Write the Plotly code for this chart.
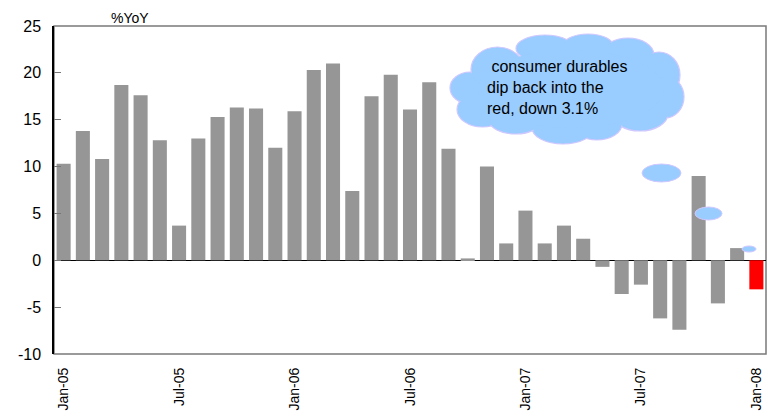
import plotly.graph_objects as go

# Monthly consumer durables growth, % year on year
months = [
    "Jan-05", "Feb-05", "Mar-05", "Apr-05", "May-05", "Jun-05",
    "Jul-05", "Aug-05", "Sep-05", "Oct-05", "Nov-05", "Dec-05",
    "Jan-06", "Feb-06", "Mar-06", "Apr-06", "May-06", "Jun-06",
    "Jul-06", "Aug-06", "Sep-06", "Oct-06", "Nov-06", "Dec-06",
    "Jan-07", "Feb-07", "Mar-07", "Apr-07", "May-07", "Jun-07",
    "Jul-07", "Aug-07", "Sep-07", "Oct-07", "Nov-07", "Dec-07",
    "Jan-08",
]
yoy = [
    10.3, 13.8, 10.8, 18.7, 17.6, 12.8,
    3.7, 13.0, 15.3, 16.3, 16.2, 12.0,
    15.9, 20.3, 21.0, 7.4, 17.5, 19.8,
    16.1, 19.0, 11.9, 0.2, 10.0, 1.8,
    5.3, 1.8, 3.7, 2.3, -0.7, -3.6,
    -2.6, -6.2, -7.4, 9.0, -4.6, 1.3,
    -3.1,
]
tick_labels = ["Jan-05", "Jul-05", "Jan-06", "Jul-06", "Jan-07", "Jul-07", "Jan-08"]
y_ticks = [-10, -5, 0, 5, 10, 15, 20, 25]
cloud_lines = [" consumer durables", "dip back into the", "red, down 3.1%"]

W, H = 777, 412
ML, MR, MT, MB = 54, 11, 26, 58
PW, PH = W - ML - MR, H - MT - MB


def px(x):
    return (x - ML) / PW


def py(y):
    return (H - MB - y) / PH


colors = ["#969696"] * (len(yoy) - 1) + ["#ff0000"]

fig = go.Figure(
    go.Bar(
        x=months,
        y=yoy,
        marker=dict(color=colors, line=dict(width=0)),
        width=0.73,
        hoverinfo="x+y",
    )
)

shapes = []
# frame around the plot area
shapes.append(dict(
    type="rect", xref="paper", yref="paper", x0=0, x1=1, y0=0, y1=1,
    line=dict(color="#7a7a7a", width=1.5), layer="below",
))

# thought cloud built from overlapping lobes (pixel boxes x0, x1, y0, y1)
lobes = [
    (450, 490, 72, 104),
    (457, 508, 92, 127),
    (471, 524, 47, 92),
    (516, 574, 35, 62),
    (562, 614, 34, 60),
    (602, 654, 38, 72),
    (638, 680, 52, 98),
    (646, 684, 76, 118),
    (612, 668, 96, 131),
    (572, 622, 108, 140),
    (532, 594, 112, 144),
    (489, 542, 106, 134),
]
fill = "#99ccff"
edge = "#cfc8ff"
for x0, x1, y0, y1 in lobes:
    shapes.append(dict(
        type="circle", xref="paper", yref="paper",
        x0=px(x0), x1=px(x1), y0=py(y1), y1=py(y0),
        fillcolor=fill, line=dict(color=edge, width=1.2),
    ))
for x0, x1, y0, y1 in lobes:
    shapes.append(dict(
        type="circle", xref="paper", yref="paper",
        x0=px(x0 + 1.2), x1=px(x1 - 1.2), y0=py(y1 - 1.2), y1=py(y0 + 1.2),
        fillcolor=fill, line=dict(width=0),
    ))
shapes.append(dict(
    type="circle", xref="paper", yref="paper",
    x0=px(478), x1=px(664), y0=py(128), y1=py(50),
    fillcolor=fill, line=dict(width=0),
))

# trailing bubbles of the cloud
for x0, x1, y0, y1 in [(642, 681, 164, 182), (695, 722, 207, 220), (742, 756, 246, 252)]:
    shapes.append(dict(
        type="circle", xref="paper", yref="paper",
        x0=px(x0), x1=px(x1), y0=py(y1), y1=py(y0),
        fillcolor=fill, line=dict(color=edge, width=1),
    ))

annotations = [
    dict(text="%YoY", xref="paper", yref="paper", x=px(130), y=py(18),
         showarrow=False, xanchor="center", yanchor="middle",
         font=dict(size=14, color="#000000")),
]
for i, line in enumerate(cloud_lines):
    annotations.append(dict(
        text=line, xref="paper", yref="paper", x=px(485), y=py(66 + 21 * i),
        showarrow=False, xanchor="left", yanchor="middle",
        font=dict(size=16, color="#000000"),
    ))

fig.update_layout(
    width=W, height=H,
    margin=dict(l=ML, r=MR, t=MT, b=MB, pad=0, autoexpand=False),
    paper_bgcolor="white", plot_bgcolor="white",
    font=dict(family="Liberation Sans, Arial, sans-serif", color="#000000"),
    showlegend=False,
    bargap=0.27,
    shapes=shapes,
    annotations=annotations,
    xaxis=dict(
        type="category",
        tickmode="array", tickvals=tick_labels, ticktext=tick_labels,
        tickangle=-90, tickfont=dict(size=14),
        showgrid=False, zeroline=False, ticks="",
        showline=False, automargin=False,
        ticklabelstandoff=10,
    ),
    yaxis=dict(
        range=[-10, 25],
        tickmode="array", tickvals=y_ticks, ticktext=[str(v) for v in y_ticks],
        showgrid=False, automargin=False,
        zeroline=True, zerolinecolor="#000000", zerolinewidth=1.2,
        showline=True, linecolor="#000000", linewidth=1.5,
        ticks="inside", ticklen=7, tickcolor="#777777", tickwidth=1,
        tickfont=dict(size=16),
        ticklabelstandoff=8,
    ),
)

fig.write_html("out.html")
